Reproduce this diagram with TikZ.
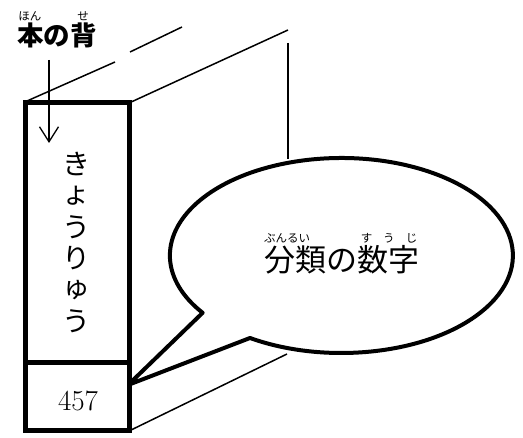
\documentclass[tikz,border=0pt]{standalone}
\usepackage{fontspec}
\newfontfamily\jp{Noto Sans CJK JP}
\usetikzlibrary{arrows.meta}
\begin{document}
\begin{tikzpicture}[x=1pt,y=1pt,
  thinline/.style={line width=1.5pt},
  boxline/.style={line width=5pt},
  bubble/.style={line width=4pt, line join=round},
  jptext/.style={inner sep=0pt, font=\jp},
  ruby/.style={inner sep=0pt, font=\jp\fontsize{11.5}{13}\selectfont}]
\useasboundingbox (0,0) rectangle (523,438);
% perspective lines
\coordinate (p1) at (27,337); \coordinate (p2) at (115,376);
\coordinate (p3) at (130,386); \coordinate (p4) at (182,411);
\coordinate (q1) at (129,335); \coordinate (q2) at (288,408);
\coordinate (v1) at (288,395); \coordinate (v2) at (288,279);
\coordinate (r1) at (129,7); \coordinate (r2) at (287,84);
\draw[thinline] (p1) -- (p2);
\draw[thinline] (p3) -- (p4);
\draw[thinline] (q1) -- (q2);
\draw[thinline] (v1) -- (v2);
\draw[thinline] (r1) -- (r2);
% speech bubble
\coordinate (B) at (250,100);
\coordinate (T) at (128,53);
\draw[bubble, fill=white] (B) arc[start angle=237.8, end angle=576, x radius=171.5, y radius=97.5] -- (T) -- cycle;
\fill (T) circle (2.5);
% book spine
\coordinate (s1) at (25,335); \coordinate (s2) at (129,75);
\coordinate (s3) at (25,75); \coordinate (s4) at (129,7);
\draw[boxline, fill=white] (s1) rectangle (s4);
\draw[boxline] (s3) -- (s2);
% arrow
\coordinate (a1) at (49,378); \coordinate (a2) at (49,295);
\draw[line width=1.3pt, -{Straight Barb[length=15pt,width=19pt,line width=1.3pt]}] (a1) -- (a2);
% texts
\node[jptext, font=\jp\bfseries\fontsize{26.5}{30}\selectfont] (title) at (57,403) {本の背};
\node[ruby] (rhon) at (30,422) {ほん};
\node[ruby] (rse) at (83,422) {せ};
\foreach \c [count=\i from 0] in {き,ょ,う,り,ゅ,う}
  \node[jptext, font=\jp\fontsize{28}{31}\selectfont] (spine\i) at (76,{438-164.5-31.3*\i}) {\c};
\node[inner sep=0pt, font=\fontsize{29}{32}\selectfont] (num) at (78,37) {457};
\node[jptext, font=\jp\fontsize{31}{34}\selectfont] (bub) at (342,178) {分類の数字};
\node[ruby] (rbun) at (287,200) {ぶんるい};
\node[ruby] (rsuu) at (389,200) {す\hspace{11pt}う\hspace{11pt}じ};
\end{tikzpicture}
\end{document}
